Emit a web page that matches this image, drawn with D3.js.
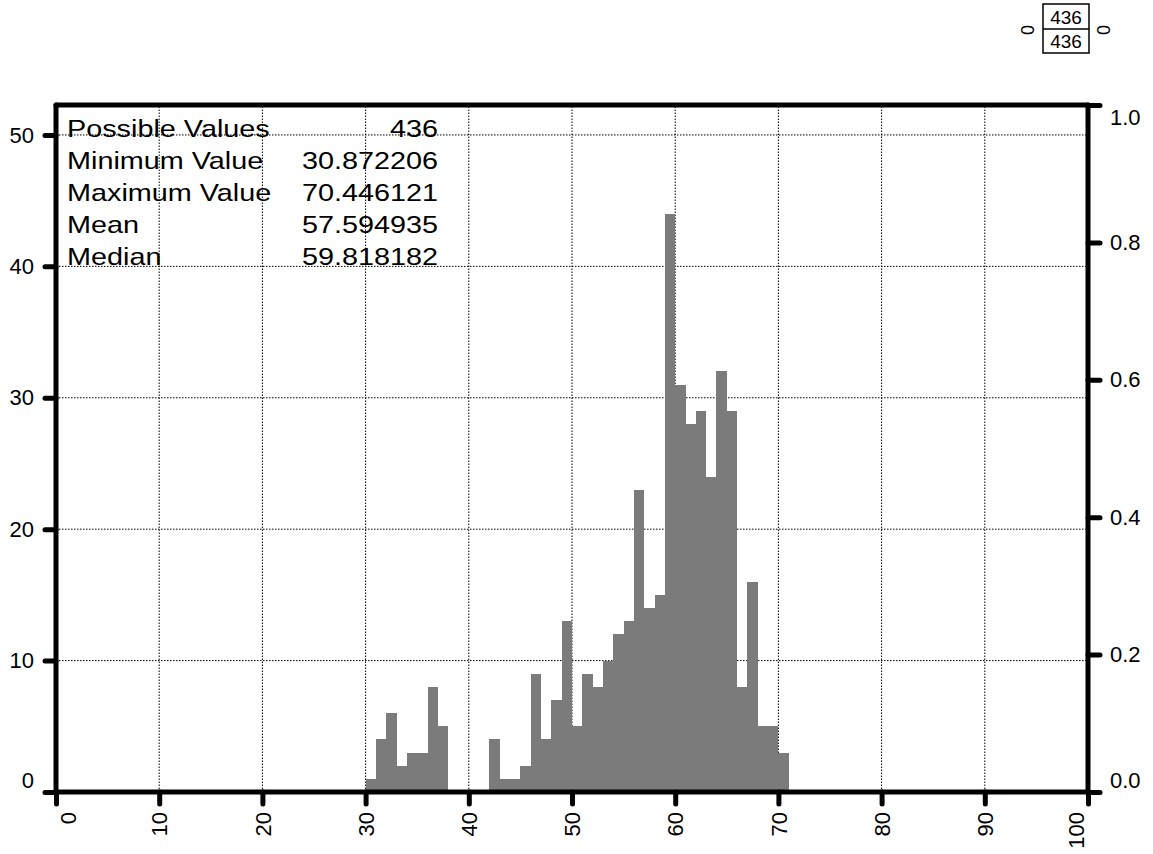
<!DOCTYPE html>
<html>
<head>
<meta charset="utf-8">
<script src="https://cdn.jsdelivr.net/npm/d3@7"></script>
<style>
  body { margin: 0; background: #fff; }
  svg text { font-family: Arial, "Liberation Sans", sans-serif; fill: #000; }
</style>
</head>
<body>
<svg id="svg" width="1153" height="854"></svg>
<script>
// histogram bins (left edge of each 1-unit bin) and counts
const binStarts = [30,31,32,33,34,35,36,37,38,39,40,41,42,43,44,45,46,47,48,49,
                   50,51,52,53,54,55,56,57,58,59,60,61,62,63,64,65,66,67,68,69,70];
const counts = [1,4,6,2,3,3,8,5,0,0,0,0,4,1,1,2,9,4,7,13,
                5,9,8,10,12,13,23,14,15,44,31,28,29,24,32,29,8,16,5,5,3];
const xTicks = [0,10,20,30,40,50,60,70,80,90,100];
const yTicks = [0,10,20,30,40,50];
const rTicks = [0,0.2,0.4,0.6,0.8,1.0];
const statNames = ["Possible Values","Minimum Value","Maximum Value","Mean","Median"];
const statValues = ["436","30.872206","70.446121","57.594935","59.818182"];
const boxValues = ["436","436"];

const svg = d3.select("#svg");

const x = d3.scaleLinear().domain([0,100]).range([56,1088]);
const y = d3.scaleLinear().domain([0,52.28]).range([792,105]);
const yR = d3.scaleLinear().domain([0,1]).range([792,105]);

// grid
const grid = svg.append('g');
grid.selectAll('.vg').data(xTicks.filter(d => d > 0 && d < 100)).enter()
    .append('line')
    .attr('x1', d => x(d)).attr('x2', d => x(d))
    .attr('y1', y(0)).attr('y2', yR(1))
    .attr('stroke','#000').attr('stroke-width',1).attr('stroke-dasharray','1.5,1.5');
grid.selectAll('.hg').data(yTicks.filter(d => d > 0)).enter()
    .append('line')
    .attr('x1', x(0)).attr('x2', x(100))
    .attr('y1', d => y(d)).attr('y2', d => y(d))
    .attr('stroke','#000').attr('stroke-width',1).attr('stroke-dasharray','1.5,1.5');

// bars
svg.append('g').selectAll('rect')
    .data(binStarts.map((b,i) => ({b: b, c: counts[i]})).filter(d => d.c > 0))
    .enter()
    .append('rect')
    .attr('x', d => x(d.b))
    .attr('width', d => x(d.b + 1) - x(d.b))
    .attr('y', d => y(d.c))
    .attr('height', d => y(0) - y(d.c))
    .attr('fill','#7b7b7b')
    .attr('shape-rendering','crispEdges');

// frame lines
const frame = svg.append('g').attr('stroke','#000').attr('stroke-width',5).attr('stroke-linecap','round');
frame.append('line').attr('x1',x(0)).attr('x2',x(100)).attr('y1',yR(1)).attr('y2',yR(1));
frame.append('line').attr('x1',x(0)).attr('x2',x(0)).attr('y1',yR(1)).attr('y2',y(0));
frame.append('line').attr('x1',x(100)).attr('x2',x(100)).attr('y1',yR(1)).attr('y2',y(0));
frame.append('line').attr('x1',x(0)).attr('x2',x(100)).attr('y1',y(0)).attr('y2',y(0));

function styleAxis(g){
    g.select('.domain').remove();
    g.selectAll('.tick line').attr('stroke','#000').attr('stroke-width',5).attr('stroke-linecap','round');
    g.selectAll('.tick text').attr('font-size',22).attr('font-family','Arial, "Liberation Sans", sans-serif');
}

// left axis
const gl = svg.append('g').attr('transform',`translate(${x(0)},0)`)
    .call(d3.axisLeft(y).tickValues(yTicks).tickSize(11).tickPadding(11));
styleAxis(gl);
gl.selectAll('.tick text').attr('dy', d => d === 0 ? '-0.2em' : '0.32em');

// right axis
const gr = svg.append('g').attr('transform',`translate(${x(100)},0)`)
    .call(d3.axisRight(yR).tickValues(rTicks).tickFormat(d3.format('.1f')).tickSize(12).tickPadding(10));
styleAxis(gr);
gr.selectAll('.tick text').attr('dy', d => d === 0 ? '-0.2em' : (d === 1 ? '0.9em' : '0.32em'));

// bottom axis
const gb = svg.append('g').attr('transform',`translate(0,${y(0)})`)
    .call(d3.axisBottom(x).tickValues(xTicks).tickSize(12).tickPadding(8));
styleAxis(gb);
gb.selectAll('.tick text')
    .attr('transform','rotate(-90)')
    .attr('text-anchor','end')
    .attr('x',-20)
    .attr('y', d => d === 0 ? 12 : (d === 100 ? -12 : 0))
    .attr('dy','0.35em');

// stats text (the original font is drawn a bit wider)
const st = svg.append('g');
statNames.forEach((n,i) => {
    st.append('text').attr('transform',`translate(67,${137 + i*32}) scale(1.2,1)`)
        .attr('font-size',24).text(n);
    st.append('text').attr('transform',`translate(438,${137 + i*32}) scale(1.2,1)`)
        .attr('font-size',24).attr('text-anchor','end').text(statValues[i]);
});

// small box top right
const bx = svg.append('g');
bx.append('rect').attr('x',1043).attr('y',4).attr('width',46).attr('height',49)
    .attr('fill','none').attr('stroke','#000').attr('stroke-width',1.5);
bx.append('line').attr('x1',1043).attr('x2',1089).attr('y1',29).attr('y2',29)
    .attr('stroke','#000').attr('stroke-width',1.5);
boxValues.forEach((v,i) => {
    bx.append('text').attr('x',1066).attr('y',24 + i*24).attr('font-size',19)
        .attr('text-anchor','middle').text(v);
});
[1028,1104].forEach(px => {
    bx.append('text').attr('transform',`translate(${px},30) rotate(-90)`)
        .attr('font-size',18).attr('text-anchor','middle').attr('dy','0.35em').text('0');
});
</script>
</body>
</html>
